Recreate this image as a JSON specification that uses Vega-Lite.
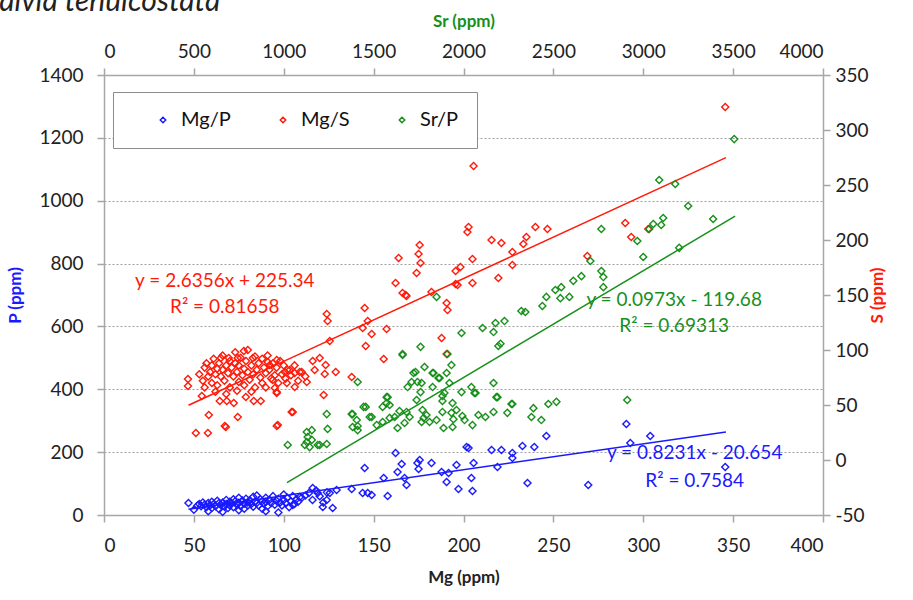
{
  "$schema": "https://vega.github.io/schema/vega-lite/v6.json",
  "autosize": {"type": "none"},
  "padding": {"left": 104, "top": 75, "right": 90, "bottom": 85},
  "width": 719,
  "height": 440,
  "title": {"text": "Salvia tenuicostata", "anchor": "start", "frame": "group", "orient": "top", "offset": 0, "baseline": "alphabetic", "dx": -120, "dy": 29, "font": "Lato", "fontSize": 30, "fontStyle": "italic", "fontWeight": "normal", "color": "#222"},
  "config": {
    "locale": {"number": {"decimal": ".", "thousands": "", "grouping": [3], "currency": ["", ""], "minus": "-"}},
    "view": {"stroke": null},
    "font": "Lato",
    "axis": {"labelFont": "Lato", "labelFontSize": 19, "labelColor": "#222", "domainColor": "#a6a6a6", "domainWidth": 1.5, "tickColor": "#a6a6a6", "tickWidth": 1.5, "tickSize": 7, "titleFont": "Lato", "titleFontSize": 17, "titleFontWeight": "bold", "grid": false, "format": "d"}
  },
  "datasets": {
    "blue": [
      {"Mg":47,"P":38},{"Mg":50,"P":17},{"Mg":52,"P":30},{"Mg":53,"P":35},{"Mg":54,"P":28},{"Mg":55,"P":40},{"Mg":56,"P":33},{"Mg":57,"P":25},{"Mg":58,"P":38},{"Mg":58,"P":12},{"Mg":59,"P":30},{"Mg":60,"P":42},{"Mg":60,"P":22},{"Mg":61,"P":35},{"Mg":62,"P":28},{"Mg":63,"P":45},{"Mg":64,"P":38},{"Mg":64,"P":18},{"Mg":65,"P":32},{"Mg":66,"P":40},{"Mg":66,"P":10},{"Mg":67,"P":27},{"Mg":68,"P":48},{"Mg":68,"P":35},{"Mg":69,"P":22},{"Mg":70,"P":42},{"Mg":70,"P":30},{"Mg":71,"P":37},{"Mg":72,"P":50},{"Mg":72,"P":25},{"Mg":73,"P":44},{"Mg":74,"P":33},{"Mg":75,"P":39},{"Mg":75,"P":55},{"Mg":75,"P":15},{"Mg":76,"P":28},{"Mg":77,"P":46},{"Mg":78,"P":36},{"Mg":78,"P":20},{"Mg":79,"P":52},{"Mg":80,"P":40},{"Mg":80,"P":30},{"Mg":81,"P":47},{"Mg":82,"P":35},{"Mg":83,"P":58},{"Mg":83,"P":26},{"Mg":84,"P":43},{"Mg":85,"P":38},{"Mg":85,"P":62},{"Mg":86,"P":30},{"Mg":87,"P":50},{"Mg":88,"P":44},{"Mg":88,"P":20},{"Mg":89,"P":36},{"Mg":90,"P":55},{"Mg":90,"P":42},{"Mg":90,"P":12},{"Mg":91,"P":28},{"Mg":92,"P":48},{"Mg":93,"P":38},{"Mg":94,"P":60},{"Mg":95,"P":33},{"Mg":96,"P":45},{"Mg":97,"P":8},{"Mg":97,"P":52},{"Mg":98,"P":40},{"Mg":99,"P":30},{"Mg":100,"P":48},{"Mg":100,"P":65},{"Mg":101,"P":38},{"Mg":102,"P":55},{"Mg":103,"P":25},{"Mg":104,"P":44},{"Mg":105,"P":60},{"Mg":106,"P":35},{"Mg":107,"P":50},{"Mg":108,"P":42},{"Mg":110,"P":55},{"Mg":112,"P":62},{"Mg":114,"P":70},{"Mg":116,"P":48},{"Mg":118,"P":78},{"Mg":120,"P":60},{"Mg":122,"P":40},{"Mg":124,"P":72},
      {"Mg":290.6,"P":289.5},{"Mg":292.8,"P":229},{"Mg":303.9,"P":251.4},{"Mg":345.6,"P":152.7},{"Mg":269.4,"P":95.4},{"Mg":246.1,"P":251.4},{"Mg":239.4,"P":216.4},{"Mg":232.8,"P":219.5},{"Mg":227.2,"P":197.3},{"Mg":227.2,"P":181.4},{"Mg":221.1,"P":206.8},{"Mg":215.6,"P":206.8},{"Mg":218.9,"P":152.7},{"Mg":235.6,"P":101.8},{"Mg":205.6,"P":165.4},{"Mg":204.4,"P":117.7},{"Mg":205,"P":76.4},{"Mg":201.7,"P":216.4},{"Mg":202.8,"P":213.2},{"Mg":197.2,"P":82.7},{"Mg":196.1,"P":159.1},{"Mg":190.6,"P":105},{"Mg":191.7,"P":133.6},{"Mg":187.8,"P":136.8},{"Mg":182.2,"P":165.4},{"Mg":175.6,"P":175},{"Mg":174.4,"P":165.4},{"Mg":175,"P":146.4},{"Mg":168.3,"P":95.4},{"Mg":167.2,"P":117.7},{"Mg":165.6,"P":162.3},{"Mg":163.3,"P":136.8},{"Mg":162.2,"P":197.3},{"Mg":155.6,"P":117.7},{"Mg":157.8,"P":60.5},{"Mg":145,"P":149.5},{"Mg":143.9,"P":70},{"Mg":146.7,"P":70},{"Mg":148.9,"P":63.6},{"Mg":137.8,"P":82.7},{"Mg":129.4,"P":79.5},{"Mg":125.6,"P":70},{"Mg":123.9,"P":47.7},{"Mg":118.9,"P":70},{"Mg":116.1,"P":85.9},{"Mg":108.9,"P":57.3},{"Mg":105,"P":31.8},{"Mg":127.2,"P":22.3},{"Mg":121.7,"P":25.5}
    ],
    "red": [
      {"Mg":205.6,"S":267.3},{"Mg":202.8,"S":211.8},{"Mg":202.2,"S":207.3},{"Mg":215.6,"S":200},{"Mg":221.1,"S":197.3},{"Mg":227.2,"S":189.1},{"Mg":233.3,"S":196.4},{"Mg":235,"S":202.7},{"Mg":240,"S":211.8},{"Mg":246.7,"S":210},{"Mg":227.2,"S":177.3},{"Mg":219.4,"S":165.5},{"Mg":205,"S":182.7},{"Mg":205,"S":160.9},{"Mg":198.3,"S":175.5},{"Mg":195.6,"S":171.8},{"Mg":195.6,"S":160},{"Mg":196.7,"S":159.1},{"Mg":175.6,"S":195.5},{"Mg":175,"S":187.3},{"Mg":176.1,"S":179.1},{"Mg":173.9,"S":170},{"Mg":163.9,"S":183.6},{"Mg":162.2,"S":160.9},{"Mg":166.1,"S":151.8},{"Mg":167.8,"S":150},{"Mg":168.3,"S":149.1},{"Mg":182.2,"S":152.7},{"Mg":190.6,"S":142.7},{"Mg":191.1,"S":136.4},{"Mg":145,"S":138.2},{"Mg":146.7,"S":126.4},{"Mg":143.9,"S":120},{"Mg":148.9,"S":114.5},{"Mg":157.2,"S":119.1},{"Mg":145.6,"S":103.6},{"Mg":187.8,"S":110.9},{"Mg":190.6,"S":96.4},{"Mg":155.6,"S":91.8},{"Mg":137.8,"S":75.5},{"Mg":268.9,"S":185.5},{"Mg":290,"S":215.5},{"Mg":345.6,"S":320.9},{"Mg":293.3,"S":202.7},{"Mg":302.8,"S":210},{"Mg":122.2,"S":59.1},{"Mg":104.4,"S":43.6},{"Mg":96.1,"S":30.9},
      {"Mg":46.7,"S":73.6},{"Mg":46.7,"S":67.3},{"Mg":54.4,"S":58.2},{"Mg":51.1,"S":24.5},{"Mg":57.8,"S":24.5},{"Mg":58.3,"S":40.9},{"Mg":67.2,"S":30.9},{"Mg":67.8,"S":30},{"Mg":74.4,"S":39.1},{"Mg":65,"S":92.7},{"Mg":69.4,"S":92.7},{"Mg":74.4,"S":92.7},{"Mg":77.8,"S":99.1},{"Mg":82.8,"S":92.7},{"Mg":91.1,"S":89.1},{"Mg":92.2,"S":86.4},{"Mg":64.4,"S":53.6},{"Mg":68.3,"S":53.6},{"Mg":72.2,"S":51.8},{"Mg":78.9,"S":57.3},{"Mg":83.3,"S":53.6},{"Mg":87.2,"S":53.6},{"Mg":96.1,"S":61.8},{"Mg":96.7,"S":31.8},{"Mg":105,"S":43.6},{"Mg":112.8,"S":70.9},{"Mg":116.1,"S":90},{"Mg":120,"S":92.7},{"Mg":123.3,"S":86.4},{"Mg":122.8,"S":78.2},{"Mg":128.9,"S":80},{"Mg":125.6,"S":108.2},{"Mg":123.9,"S":132.7},{"Mg":124.4,"S":126.4},
      {"Mg":96.1,"S":90.9},{"Mg":100.6,"S":80},{"Mg":103.3,"S":81.8},{"Mg":106.1,"S":79.1},{"Mg":108.9,"S":80},{"Mg":93.9,"S":72.7},{"Mg":95,"S":65.5},{"Mg":101.7,"S":70},{"Mg":106.1,"S":66.4},{"Mg":96.1,"S":60.9},{"Mg":117.2,"S":81.8},
      {"Mg":53,"S":78},{"Mg":55,"S":72},{"Mg":56,"S":84},{"Mg":57,"S":88},{"Mg":58,"S":76},{"Mg":59,"S":80},{"Mg":60,"S":70},{"Mg":60,"S":86},{"Mg":61,"S":92},{"Mg":62,"S":78},{"Mg":63,"S":83},{"Mg":63,"S":68},{"Mg":64,"S":88},{"Mg":65,"S":76},{"Mg":66,"S":82},{"Mg":66,"S":95},{"Mg":67,"S":72},{"Mg":68,"S":86},{"Mg":69,"S":79},{"Mg":70,"S":90},{"Mg":70,"S":66},{"Mg":71,"S":84},{"Mg":72,"S":76},{"Mg":73,"S":98},{"Mg":73,"S":88},{"Mg":74,"S":80},{"Mg":75,"S":71},{"Mg":75,"S":86},{"Mg":76,"S":93},{"Mg":77,"S":77},{"Mg":78,"S":83},{"Mg":78,"S":68},{"Mg":79,"S":90},{"Mg":80,"S":80},{"Mg":80,"S":100},{"Mg":81,"S":73},{"Mg":82,"S":86},{"Mg":83,"S":78},{"Mg":84,"S":94},{"Mg":84,"S":66},{"Mg":85,"S":82},{"Mg":86,"S":88},{"Mg":87,"S":75},{"Mg":88,"S":92},{"Mg":88,"S":70},{"Mg":89,"S":84},{"Mg":90,"S":79},{"Mg":91,"S":95},{"Mg":92,"S":82},{"Mg":93,"S":74},{"Mg":94,"S":88},{"Mg":95,"S":77},{"Mg":96,"S":84},{"Mg":97,"S":70},{"Mg":98,"S":90},{"Mg":99,"S":78},{"Mg":100,"S":86},{"Mg":101,"S":74},{"Mg":102,"S":82},{"Mg":104,"S":77},{"Mg":106,"S":86},{"Mg":108,"S":72},{"Mg":110,"S":80},{"Mg":112,"S":76},{"Mg":56,"S":66},{"Mg":62,"S":62},{"Mg":68,"S":60},{"Mg":74,"S":63},{"Mg":82,"S":62},{"Mg":90,"S":66}
    ],
    "green": [
      {"Sr":1022,"P":223},{"Sr":1133,"P":248},{"Sr":1128,"P":232},{"Sr":1156,"P":270},{"Sr":1144,"P":216},{"Sr":1189,"P":223},{"Sr":1239,"P":226},{"Sr":1244,"P":274},{"Sr":1239,"P":321},{"Sr":1411,"P":423},{"Sr":1456,"P":344},{"Sr":1383,"P":321},{"Sr":1411,"P":283},{"Sr":1383,"P":280},{"Sr":1478,"P":312},{"Sr":1517,"P":286},{"Sr":1550,"P":296},{"Sr":1572,"P":356},{"Sr":1572,"P":375},{"Sr":1589,"P":309},{"Sr":1617,"P":312},{"Sr":1633,"P":277},{"Sr":1661,"P":509},{"Sr":1644,"P":331},{"Sr":1672,"P":293},{"Sr":1683,"P":328},{"Sr":1700,"P":312},{"Sr":1689,"P":407},{"Sr":1722,"P":452},{"Sr":1733,"P":455},{"Sr":1744,"P":423},{"Sr":1767,"P":420},{"Sr":1761,"P":391},{"Sr":1739,"P":366},{"Sr":1772,"P":334},{"Sr":1794,"P":318},{"Sr":1811,"P":296},{"Sr":1767,"P":296},{"Sr":1778,"P":309},{"Sr":1828,"P":452},{"Sr":1828,"P":407},{"Sr":1867,"P":436},{"Sr":1883,"P":379},{"Sr":1883,"P":363},{"Sr":1906,"P":452},{"Sr":1922,"P":420},{"Sr":1933,"P":477},{"Sr":1939,"P":356},{"Sr":1933,"P":325},{"Sr":1961,"P":334},{"Sr":1944,"P":305},{"Sr":1939,"P":280},{"Sr":1889,"P":277},{"Sr":1911,"P":512},{"Sr":1761,"P":535},{"Sr":1850,"P":302},{"Sr":1989,"P":391},{"Sr":2006,"P":302},{"Sr":2044,"P":407},{"Sr":2067,"P":388},{"Sr":2050,"P":286},{"Sr":2083,"P":318},{"Sr":2122,"P":312},{"Sr":2167,"P":420},{"Sr":2183,"P":375},{"Sr":2167,"P":328},{"Sr":2194,"P":538},{"Sr":2272,"P":353},{"Sr":2244,"P":325},{"Sr":1994,"P":315},{"Sr":1883,"P":328},
      {"Sr":2767,"P":910},{"Sr":2706,"P":808},{"Sr":2767,"P":776},{"Sr":2778,"P":757},{"Sr":2778,"P":725},{"Sr":2656,"P":760},{"Sr":2611,"P":745},{"Sr":2544,"P":725},{"Sr":2511,"P":716},{"Sr":2539,"P":690},{"Sr":2589,"P":694},{"Sr":2461,"P":694},{"Sr":2439,"P":665},{"Sr":2344,"P":646},{"Sr":2322,"P":649},{"Sr":2228,"P":617},{"Sr":2178,"P":611},{"Sr":2167,"P":582},{"Sr":2106,"P":595},{"Sr":2206,"P":545},{"Sr":1989,"P":579},{"Sr":1850,"P":694},{"Sr":1661,"P":512},{"Sr":1833,"P":452},{"Sr":1861,"P":436},{"Sr":2189,"P":375},{"Sr":2267,"P":353},{"Sr":2061,"P":388},{"Sr":2389,"P":340},{"Sr":2433,"P":302},{"Sr":2472,"P":353},{"Sr":2517,"P":360},{"Sr":2378,"P":312},{"Sr":1444,"P":344},{"Sr":1489,"P":312},{"Sr":1550,"P":344},{"Sr":1578,"P":375},{"Sr":1589,"P":350},{"Sr":1783,"P":471},{"Sr":1711,"P":423},{"Sr":1894,"P":388},
      {"Sr":3506,"P":1196},{"Sr":3089,"P":1066},{"Sr":3178,"P":1053},{"Sr":3250,"P":983},{"Sr":3389,"P":942},{"Sr":3111,"P":945},{"Sr":3100,"P":923},{"Sr":3056,"P":926},{"Sr":3033,"P":910},{"Sr":2967,"P":872},{"Sr":3000,"P":821},{"Sr":3200,"P":850},{"Sr":2911,"P":366},{"Sr":1128,"P":264},{"Sr":1156,"P":239},{"Sr":1117,"P":223},{"Sr":1200,"P":223},{"Sr":1378,"P":321},{"Sr":1406,"P":302},{"Sr":1411,"P":270}
    ],
    "trendMgP": [{"Mg":47,"P":18},{"Mg":346,"P":264.1}],
    "trendMgS": [{"Mg":47,"S":49.8},{"Mg":346,"S":274.9}],
    "trendSrP": [{"Sr":1018,"P":103},{"Sr":3511,"P":951}],
    "labels": [
      {"Mg":67.2,"P":744,"series":"Mg/S","label":"y = 2.6356x + 225.34"},
      {"Mg":67.2,"P":662,"series":"Mg/S","label":"R² = 0.81658"},
      {"Mg":317.2,"P":684,"series":"Sr/P","label":"y = 0.0973x - 119.68"},
      {"Mg":317.2,"P":601,"series":"Sr/P","label":"R² = 0.69313"},
      {"Mg":328.6,"P":197,"series":"Mg/P","label":"y = 0.8231x - 20.654"},
      {"Mg":328.6,"P":108,"series":"Mg/P","label":"R² = 0.7584"}
    ]
  },
  "resolve": {"scale": {"x": "independent", "y": "independent"}},
  "layer": [
    {
      "data": {"name": "blue"},
      "mark": {"type": "point", "shape": "diamond", "filled": false, "size": 50, "strokeWidth": 1.4, "opacity": 1},
      "encoding": {
        "x": {"field": "Mg", "type": "quantitative", "scale": {"domain": [0, 400], "nice": false, "zero": false},
              "axis": {"orient": "bottom", "values": [0,50,100,150,200,250,300,350,400], "title": "Mg (ppm)", "labelPadding": 14, "titlePadding": 14, "titleColor": "#222"}},
        "y": {"field": "P", "type": "quantitative", "scale": {"domain": [0, 1400], "nice": false, "zero": false},
              "axis": {"orient": "left", "values": [0,200,400,600,800,1000,1200,1400], "title": "P (ppm)", "titleColor": "#1a1aff", "labelPadding": 14, "titlePadding": 14, "grid": true, "gridColor": "#a0a0a0", "gridDash": [2, 2], "gridWidth": 1.2}},
        "color": {"datum": "Mg/P", "type": "nominal", "scale": {"domain": ["Mg/P", "Mg/S", "Sr/P"], "range": ["#1a1aff", "#ff1a0a", "#17901a"]},
                  "legend": {"title": null, "orient": "none", "legendX": 9, "legendY": 17, "direction": "horizontal", "padding": 18, "strokeColor": "#8c8c8c", "fillColor": "white", "symbolType": "diamond", "symbolSize": 30, "symbolStrokeWidth": 1.5, "symbolOffset": 22, "labelOffset": 8, "columnPadding": 20, "labelFont": "Lato", "labelFontSize": 20, "labelColor": "#111"}}
      }
    },
    {
      "data": {"name": "trendMgP"},
      "mark": {"type": "line", "color": "#1a1aff", "strokeWidth": 1.5},
      "encoding": {
        "x": {"field": "Mg", "type": "quantitative", "scale": {"domain": [0, 400], "nice": false, "zero": false}, "axis": null},
        "y": {"field": "P", "type": "quantitative", "scale": {"domain": [0, 1400], "nice": false, "zero": false}, "axis": null}
      }
    },
    {
      "data": {"name": "red"},
      "mark": {"type": "point", "shape": "diamond", "filled": false, "size": 50, "strokeWidth": 1.4, "opacity": 1},
      "encoding": {
        "x": {"field": "Mg", "type": "quantitative", "scale": {"domain": [0, 400], "nice": false, "zero": false}, "axis": null},
        "y": {"field": "S", "type": "quantitative", "scale": {"domain": [-50, 350], "nice": false, "zero": false},
              "axis": {"orient": "right", "values": [-50,0,50,100,150,200,250,300,350], "title": "S (ppm)", "titleColor": "#ff1a0a", "titleAngle": 270, "labelPadding": 5, "titlePadding": 18}},
        "color": {"datum": "Mg/S", "type": "nominal"}
      }
    },
    {
      "data": {"name": "trendMgS"},
      "mark": {"type": "line", "color": "#ff1a0a", "strokeWidth": 1.5},
      "encoding": {
        "x": {"field": "Mg", "type": "quantitative", "scale": {"domain": [0, 400], "nice": false, "zero": false}, "axis": null},
        "y": {"field": "S", "type": "quantitative", "scale": {"domain": [-50, 350], "nice": false, "zero": false}, "axis": null}
      }
    },
    {
      "data": {"name": "green"},
      "mark": {"type": "point", "shape": "diamond", "filled": false, "size": 50, "strokeWidth": 1.4, "opacity": 1},
      "encoding": {
        "x": {"field": "Sr", "type": "quantitative", "scale": {"domain": [0, 4000], "nice": false, "zero": false},
              "axis": {"orient": "top", "values": [0,500,1000,1500,2000,2500,3000,3500,4000], "title": "Sr (ppm)", "titleColor": "#17901a", "labelPadding": 7, "titlePadding": 12}},
        "y": {"field": "P", "type": "quantitative", "scale": {"domain": [0, 1400], "nice": false, "zero": false}, "axis": null},
        "color": {"datum": "Sr/P", "type": "nominal"}
      }
    },
    {
      "data": {"name": "trendSrP"},
      "mark": {"type": "line", "color": "#17901a", "strokeWidth": 1.5},
      "encoding": {
        "x": {"field": "Sr", "type": "quantitative", "scale": {"domain": [0, 4000], "nice": false, "zero": false}, "axis": null},
        "y": {"field": "P", "type": "quantitative", "scale": {"domain": [0, 1400], "nice": false, "zero": false}, "axis": null}
      }
    },
    {
      "data": {"name": "labels"},
      "transform": [{"filter": "datum.series == 'Mg/S'"}],
      "mark": {"type": "text", "font": "Lato", "fontSize": 19, "align": "center", "baseline": "middle", "color": "#ff1a0a"},
      "encoding": {
        "x": {"field": "Mg", "type": "quantitative", "scale": {"domain": [0, 400], "nice": false, "zero": false}, "axis": null},
        "y": {"field": "P", "type": "quantitative", "scale": {"domain": [0, 1400], "nice": false, "zero": false}, "axis": null},
        "text": {"field": "label"}
      }
    },
    {
      "data": {"name": "labels"},
      "transform": [{"filter": "datum.series == 'Sr/P'"}],
      "mark": {"type": "text", "font": "Lato", "fontSize": 19, "align": "center", "baseline": "middle", "color": "#17901a"},
      "encoding": {
        "x": {"field": "Mg", "type": "quantitative", "scale": {"domain": [0, 400], "nice": false, "zero": false}, "axis": null},
        "y": {"field": "P", "type": "quantitative", "scale": {"domain": [0, 1400], "nice": false, "zero": false}, "axis": null},
        "text": {"field": "label"}
      }
    },
    {
      "data": {"name": "labels"},
      "transform": [{"filter": "datum.series == 'Mg/P'"}],
      "mark": {"type": "text", "font": "Lato", "fontSize": 19, "align": "center", "baseline": "middle", "color": "#1a1aff"},
      "encoding": {
        "x": {"field": "Mg", "type": "quantitative", "scale": {"domain": [0, 400], "nice": false, "zero": false}, "axis": null},
        "y": {"field": "P", "type": "quantitative", "scale": {"domain": [0, 1400], "nice": false, "zero": false}, "axis": null},
        "text": {"field": "label"}
      }
    }
  ]
}
